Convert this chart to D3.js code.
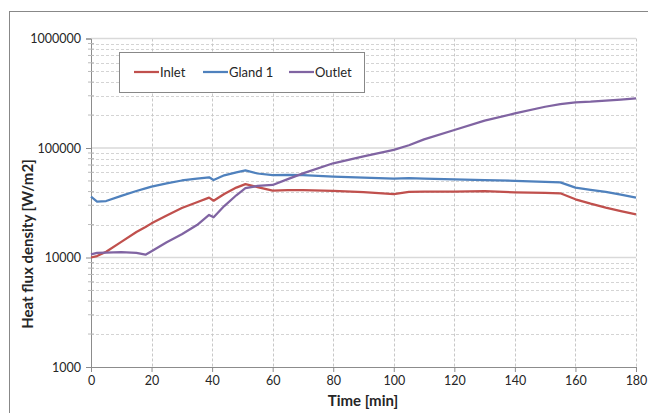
<!DOCTYPE html>
<html>
<head>
<meta charset="utf-8">
<script src="https://cdn.jsdelivr.net/npm/d3@7"></script>
<style>
  body { margin: 0; background: #fff; }
  text { font-family: Lato, "Open Sans", sans-serif; fill: #262626; }
</style>
</head>
<body>
<div id="chart"></div>
<script>
// time points [min] and heat flux density series [W/m2]
var times = [0, 2, 5, 10, 15, 18, 20, 25, 30, 35, 39, 40.5, 44, 48, 51, 55, 60, 65, 70,
  80, 90, 100, 105, 110, 120, 130, 140, 150, 155, 160, 165, 170, 175, 180];
var inlet = [10000, 10300, 11300, 13900, 17100, 19000, 20500, 24200, 28300, 32000, 35200, 33000,
  38000, 43500, 46800, 44000, 40800, 41200, 41300, 40500, 39500, 38000, 39800, 40000, 40000,
  40300, 39400, 39000, 38600, 34000, 31000, 28500, 26500, 24800];
var gland1 = [36000, 32400, 32800, 36500, 40500, 42800, 44400, 47500, 50500, 52500, 54000, 51000,
  56300, 60000, 62500, 58500, 56500, 56800, 56500, 54700, 53500, 52500, 53000, 52500, 51800,
  51000, 50200, 49000, 48500, 43500, 41500, 39800, 37500, 35200];
var outlet = [10700, 11000, 11100, 11200, 11000, 10600, 11400, 13800, 16300, 19800, 24500, 23300,
  29500, 37000, 43000, 45000, 46000, 52000, 58700, 72500, 84000, 96000, 106000, 120000, 146000,
  178000, 207000, 238000, 252000, 261000, 265000, 271000, 277000, 284000];

var seriesNames = ["Inlet", "Gland 1", "Outlet"];
var seriesColors = ["#c0504d", "#4f81bd", "#8064a2"];
var xTicks = [0, 20, 40, 60, 80, 100, 120, 140, 160, 180];
var yTicks = [1000, 10000, 100000, 1000000];

const width = 648;
const height = 413;

var svg = d3.select("#chart").append("svg")
  .attr("width", width)
  .attr("height", height);

// outer chart frame, runs off the right and bottom edges
svg.append("rect")
  .attr("x", 9.5).attr("y", 11.5)
  .attr("width", 700).attr("height", 500)
  .attr("fill", "none").attr("stroke", "#888");

var x = d3.scaleLinear().domain([0, 180]).range([91, 636]);
var y = d3.scaleLog().domain([1000, 1000000]).range([367, 38.5]);

// minor horizontal grid
var minors = [];
[1000, 10000, 100000].forEach(function (d) {
  for (var k = 2; k <= 9; k++) minors.push(d * k);
});

svg.append("g").selectAll("line")
  .data(minors)
  .enter().append("line")
  .attr("x1", x(0)).attr("x2", x(180))
  .attr("y1", function (d) { return Math.round(y(d)) + 0.5; })
  .attr("y2", function (d) { return Math.round(y(d)) + 0.5; })
  .attr("stroke", "#d4d4d4")
  .attr("stroke-dasharray", "3,2");

// vertical grid
svg.append("g").selectAll("line")
  .data(xTicks.slice(1))
  .enter().append("line")
  .attr("x1", function (d) { return Math.round(x(d)) + 0.5; })
  .attr("x2", function (d) { return Math.round(x(d)) + 0.5; })
  .attr("y1", y(1000000)).attr("y2", y(1000))
  .attr("stroke", "#c8c8c8")
  .attr("stroke-dasharray", "3,2");

// major horizontal grid
svg.append("g").selectAll("line")
  .data(yTicks.slice(1))
  .enter().append("line")
  .attr("x1", x(0)).attr("x2", x(180))
  .attr("y1", function (d) { return y(d); })
  .attr("y2", function (d) { return y(d); })
  .attr("stroke", "#d9d9d9")
  .attr("stroke-width", 1.5);

// y axis
var yAxis = svg.append("g")
  .attr("transform", "translate(" + x(0) + ",0)")
  .call(d3.axisLeft(y).tickValues(yTicks).tickSize(5).tickPadding(5)
    .tickFormat(d3.format("d")));
yAxis.selectAll("text").style("font-size", "12.5px");

svg.append("g").selectAll("line")
  .data(minors)
  .enter().append("line")
  .attr("x1", x(0) - 3).attr("x2", x(0) + 3)
  .attr("y1", function (d) { return y(d); })
  .attr("y2", function (d) { return y(d); })
  .attr("stroke", "#bbb");

// x axis
var xAxis = svg.append("g")
  .attr("transform", "translate(0," + y(1000) + ")")
  .call(d3.axisBottom(x).tickValues(xTicks).tickSize(5).tickPadding(4));
xAxis.selectAll("text").style("font-size", "12.5px");

svg.selectAll(".domain, .tick line").attr("stroke", "#8c8c8c");

// lines
var allSeries = [inlet, gland1, outlet];
var line = d3.line()
  .x(function (d, i) { return x(times[i]); })
  .y(function (d) { return y(d); });

svg.append("g").selectAll("path")
  .data(allSeries)
  .enter().append("path")
  .attr("d", line)
  .attr("fill", "none")
  .attr("stroke", function (d, i) { return seriesColors[i]; })
  .attr("stroke-width", 2.25)
  .attr("stroke-linejoin", "round");

// legend
var legend = svg.append("g");
legend.append("rect")
  .attr("x", 119.5).attr("y", 52.5)
  .attr("width", 245).attr("height", 40)
  .attr("fill", "#fff").attr("stroke", "#888");

var legendX = [134, 203, 289];
var items = legend.selectAll("g.item")
  .data(seriesNames)
  .enter().append("g")
  .attr("class", "item")
  .attr("transform", function (d, i) { return "translate(" + legendX[i] + ",72)"; });
items.append("line")
  .attr("x1", 0).attr("x2", 25)
  .attr("stroke", function (d, i) { return seriesColors[i]; })
  .attr("stroke-width", 2.25);
items.append("text")
  .attr("x", 26).attr("dy", "0.35em")
  .style("font-size", "13px")
  .text(function (d) { return d; });

// axis titles
svg.append("text")
  .attr("x", 363).attr("y", 406)
  .attr("text-anchor", "middle")
  .style("font-size", "15px").style("font-weight", "bold")
  .text("Time [min]");

svg.append("text")
  .attr("transform", "translate(33,244) rotate(-90)")
  .attr("text-anchor", "middle")
  .style("font-size", "15px").style("font-weight", "bold")
  .text("Heat flux density [W/m2]");
</script>
</body>
</html>
